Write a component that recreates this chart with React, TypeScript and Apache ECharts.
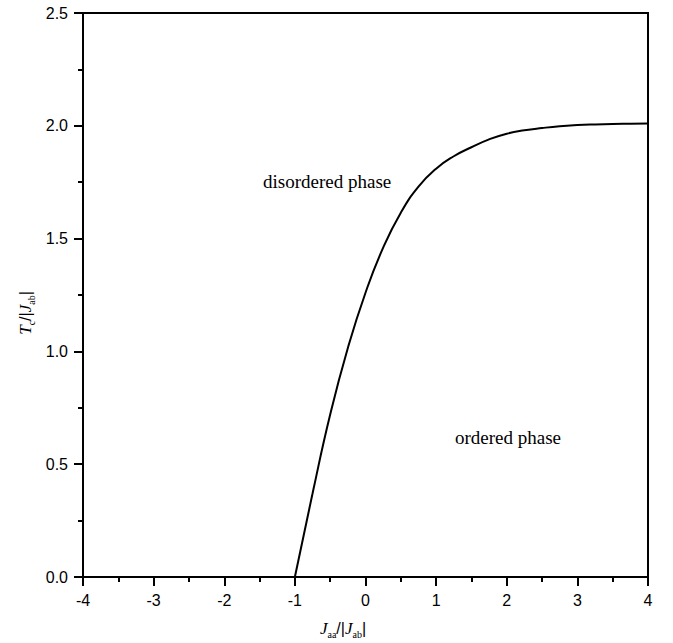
import React, { useEffect, useRef } from "react";
import * as echarts from "echarts";

const xValues = [-1, -0.75, -0.5, -0.25, 0, 0.25, 0.5, 0.75, 1.0, 1.25, 1.5, 1.75, 2.0, 2.25, 2.5, 2.75, 3.0, 3.25, 3.5, 3.75, 4.0];
const tcValues = [0, 0.37, 0.72, 1.015, 1.26, 1.46, 1.615, 1.73, 1.81, 1.865, 1.905, 1.94, 1.965, 1.98, 1.99, 1.998, 2.003, 2.006, 2.008, 2.009, 2.01];

const annotations = [
  { text: "disordered phase", x: 263, y: 181 },
  { text: "ordered phase", x: 455, y: 437 },
];

export default function App() {
  const ref = useRef<HTMLDivElement>(null);
  useEffect(() => {
    if (!ref.current) return;
    const chart = echarts.init(ref.current, null, { renderer: "svg" });
    const serif = "'Liberation Serif', 'Times New Roman', serif";
    const sans = "'Liberation Sans', Arial, sans-serif";
    const rich = {
      J: { fontFamily: serif, fontStyle: "italic", fontSize: 17, lineHeight: 22, color: "#000" },
      s: { fontFamily: serif, fontSize: 10, lineHeight: 22, verticalAlign: "bottom", color: "#000" },
      n: { fontFamily: sans, fontSize: 16, lineHeight: 22, color: "#000" },
    };
    const axisCommon = {
      axisLine: { show: true, onZero: false, lineStyle: { color: "#000", width: 2 } },
      axisTick: { show: true, inside: false, length: 9, lineStyle: { color: "#000", width: 2 } },
      minorTick: { show: true, splitNumber: 2, length: 5, lineStyle: { color: "#000", width: 2 } },
      splitLine: { show: false },
    };
    chart.setOption({
      animation: false,
      backgroundColor: "#fff",
      grid: {
        left: 83,
        right: 25,
        top: 13,
        bottom: 66,
        show: true,
        borderColor: "#000",
        borderWidth: 2,
        containLabel: false,
      },
      xAxis: {
        type: "value",
        min: -4,
        max: 4,
        interval: 1,
        ...axisCommon,
        axisLabel: { color: "#000", fontFamily: sans, fontSize: 16, margin: 15 },
      },
      yAxis: {
        type: "value",
        min: 0,
        max: 2.5,
        interval: 0.5,
        ...axisCommon,
        axisLabel: {
          color: "#000",
          fontFamily: sans,
          fontSize: 16,
          margin: 15,
          formatter: (v: number) => v.toFixed(1),
        },
      },
      series: [
        {
          type: "line",
          data: xValues.map((x, i) => [x, tcValues[i]]),
          smooth: true,
          symbol: "none",
          lineStyle: { color: "#000", width: 2 },
        },
      ],
      graphic: [
        ...annotations.map((a) => ({
          type: "text",
          x: a.x,
          y: a.y,
          style: {
            text: a.text,
            font: `19px ${serif}`,
            fill: "#000",
            align: "left",
            verticalAlign: "middle",
          },
        })),
        {
          type: "text",
          x: 343,
          y: 628,
          style: {
            text: "{J|J}{s|aa}{n|/|}{J|J}{s|ab}{n||}",
            rich,
            align: "center",
            verticalAlign: "middle",
          },
        },
        {
          type: "text",
          x: 25,
          y: 313,
          rotation: Math.PI / 2,
          style: {
            text: "{J|T}{s|c}{n|/|}{J|J}{s|ab}{n||}",
            rich,
            align: "center",
            verticalAlign: "middle",
          },
        },
      ],
    });
    return () => chart.dispose();
  }, []);
  return (
    <div
      ref={ref}
      style={{ position: "fixed", left: 0, top: 0, width: 673, height: 643, background: "#fff" }}
    />
  );
}
